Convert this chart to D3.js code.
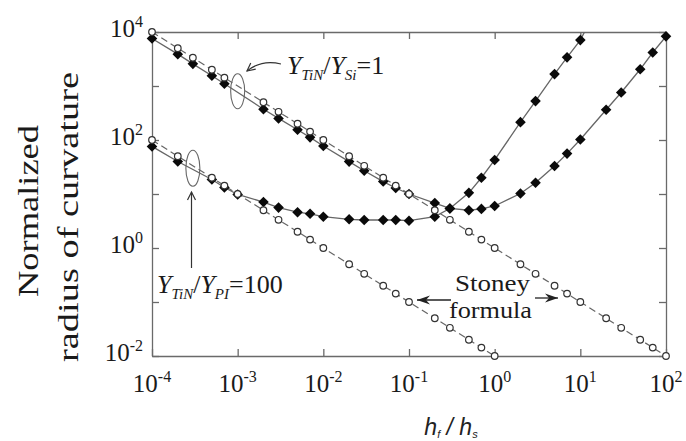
<!DOCTYPE html>
<html>
<head>
<meta charset="utf-8">
<script src="https://cdn.jsdelivr.net/npm/d3@7"></script>
<style>
  body { margin: 0; background: #fff; }
  svg { display: block; }
  text { font-family: "Liberation Serif", "Times New Roman", serif; fill: #1a1a1a; }
</style>
</head>
<body>
<div id="chart"></div>
<script>
// h_f / h_s values and normalized radius
var siX = [1e-4, 2e-4, 3e-4, 5e-4, 7e-4, 2e-3, 3e-3, 5e-3, 7e-3, 1e-2, 2e-2, 3e-2, 5e-2, 7e-2, 1e-1,
           2e-1, 3e-1, 5e-1, 7e-1, 1, 2, 3, 5, 7, 10, 20, 30, 50, 70, 100];
var siFem = [7590, 3890, 2570, 1550, 1100, 372, 251, 155, 112, 77.6, 39.8, 26.9, 17, 12.9, 10,
             6.8, 5.4, 5.0, 5.3, 6.0, 10.2, 16.2, 33, 56, 102, 363, 759, 2040, 4170, 8300];
var siStoney = [10000, 5000, 3333, 2000, 1429, 500, 333, 200, 143, 100, 50, 33.3, 20, 14.3, 10,
                5, 3.33, 2, 1.43, 1, 0.5, 0.333, 0.2, 0.143, 0.1, 0.05, 0.0333, 0.02, 0.0143, 0.01];

var piX = [1e-4, 2e-4, 5e-4, 7e-4, 1e-3, 2e-3, 3e-3, 5e-3, 7e-3, 1e-2, 2e-2, 3e-2, 5e-2, 7e-2, 1e-1,
           2e-1, 3e-1, 5e-1, 7e-1, 1, 2, 3, 5, 7, 10, 20];
var piFem = [76, 40, 18.6, 13.2, 9.8, 7.1, 5.6, 4.6, 4.3, 3.8, 3.4, 3.3, 3.3, 3.3, 3.2,
             3.8, 5.4, 10.5, 20, 42.7, 214, 525, 1660, 3390, 7080, 60000];
var piStoneyX = [1e-4, 2e-4, 5e-4, 7e-4, 1e-3, 2e-3, 3e-3, 5e-3, 7e-3, 1e-2, 2e-2, 3e-2, 5e-2, 7e-2, 1e-1,
                 2e-1, 3e-1, 5e-1, 7e-1, 1];
var piStoney = [100, 50, 20, 14.3, 10, 5, 3.33, 2, 1.43, 1, 0.5, 0.333, 0.2, 0.143, 0.1,
                0.05, 0.0333, 0.02, 0.0143, 0.01];

var xTicks = [1e-4, 1e-3, 1e-2, 1e-1, 1, 10, 100];
var xTickExp = ["-4", "-3", "-2", "-1", "0", "1", "2"];
var yTicks = [1e-2, 1e-1, 1, 10, 100, 1000, 10000];
var yLabelTicks = [1e-2, 1, 100, 10000];
var yTickExp = ["-2", "0", "2", "4"];

var width = 686, height = 441;
var margin = {top: 32, right: 20, bottom: 85, left: 152};
var w = width - margin.left - margin.right,
    h = height - margin.top - margin.bottom;

var svg = d3.select("#chart").append("svg")
    .attr("width", width)
    .attr("height", height);

var defs = svg.append("defs");
defs.append("clipPath").attr("id", "plotclip")
    .append("rect").attr("x", 0).attr("y", 0).attr("width", w).attr("height", h);

// open V head for the label arrows
defs.append("marker").attr("id", "vhead")
    .attr("viewBox", "-10 -6 12 12").attr("refX", 0).attr("refY", 0)
    .attr("markerWidth", 12).attr("markerHeight", 12)
    .attr("markerUnits", "userSpaceOnUse").attr("orient", "auto")
    .append("path").attr("d", "M-8,-4 L0,0 L-8,4")
    .attr("fill", "none").attr("stroke", "#333").attr("stroke-width", 1.2);

// filled barbed head for the Stoney arrows
defs.append("marker").attr("id", "fhead")
    .attr("viewBox", "-14 -6 16 12").attr("refX", 0).attr("refY", 0)
    .attr("markerWidth", 16).attr("markerHeight", 12)
    .attr("markerUnits", "userSpaceOnUse").attr("orient", "auto")
    .append("path").attr("d", "M-13,-4.5 L0,0 L-13,4.5 L-9,0 Z")
    .attr("fill", "#222");

var g = svg.append("g")
    .attr("transform", "translate(" + margin.left + "," + margin.top + ")");

var x = d3.scaleLog().domain([1e-4, 1e2]).range([0, w]);
var y = d3.scaleLog().domain([1e-2, 1e4]).range([h, 0]);

// frame + inward ticks
function styleAxis(sel) {
    sel.selectAll("path, line").attr("stroke", "#6a6a6a").attr("stroke-width", 1.3);
    sel.selectAll("text").remove();
}
g.append("g").attr("transform", "translate(0," + h + ")")
    .call(d3.axisBottom(x).tickValues(xTicks).tickSize(-7).tickSizeOuter(0)).call(styleAxis);
g.append("g")
    .call(d3.axisTop(x).tickValues(xTicks).tickSize(-7).tickSizeOuter(0)).call(styleAxis);
g.append("g")
    .call(d3.axisLeft(y).tickValues(yTicks).tickSize(-7).tickSizeOuter(0)).call(styleAxis);
g.append("g").attr("transform", "translate(" + w + ",0)")
    .call(d3.axisRight(y).tickValues(yTicks).tickSize(-7).tickSizeOuter(0)).call(styleAxis);

// tick labels as 10^n
var xl = g.selectAll(".xlab").data(xTicks).enter().append("text")
    .attr("class", "xlab")
    .attr("x", function(d) { return x(d); })
    .attr("y", h + 36)
    .attr("text-anchor", "middle")
    .style("font-size", "25px");
xl.append("tspan").text("10");
xl.append("tspan").attr("dy", -10).style("font-size", "16px")
    .text(function(d, i) { return xTickExp[i]; });

var yl = g.selectAll(".ylab").data(yLabelTicks).enter().append("text")
    .attr("class", "ylab")
    .attr("x", -9)
    .attr("y", function(d) { return y(d) + 5; })
    .attr("text-anchor", "end")
    .style("font-size", "25px");
yl.append("tspan").text("10");
yl.append("tspan").attr("dy", -10).style("font-size", "16px")
    .text(function(d, i) { return yTickExp[i]; });

// series
var plot = g.append("g");
var lines = plot.append("g").attr("clip-path", "url(#plotclip)");
var line = d3.line()
    .x(function(d) { return x(d[0]); })
    .y(function(d) { return y(d[1]); });

var siFemPts = d3.zip(siX, siFem), siStoneyPts = d3.zip(siX, siStoney);
var piFemPts = d3.zip(piX, piFem), piStoneyPts = d3.zip(piStoneyX, piStoney);

[siStoneyPts, piStoneyPts].forEach(function(pts) {
    lines.append("path").datum(pts).attr("d", line)
        .attr("fill", "none").attr("stroke", "#666").attr("stroke-width", 1.2)
        .attr("stroke-dasharray", "7,4");
});
[siFemPts, piFemPts].forEach(function(pts) {
    lines.append("path").datum(pts).attr("d", line)
        .attr("fill", "none").attr("stroke", "#666").attr("stroke-width", 1.3);
});

var diamond = d3.symbol().type(d3.symbolSquare).size(56);
[siFemPts, piFemPts].forEach(function(pts) {
    plot.append("g").selectAll("path").data(pts).enter().append("path")
        .attr("d", diamond)
        .attr("transform", function(d) {
            return "translate(" + x(d[0]) + "," + y(d[1]) + ") rotate(45)";
        })
        .attr("fill", "#0a0a0a");
});
[siStoneyPts, piStoneyPts].forEach(function(pts) {
    plot.append("g").selectAll("circle").data(pts).enter().append("circle")
        .attr("cx", function(d) { return x(d[0]); })
        .attr("cy", function(d) { return y(d[1]); })
        .attr("r", 3.3)
        .attr("fill", "#fff").attr("stroke", "#333").attr("stroke-width", 1.2);
});

// annotations
var ann = svg.append("g");
ann.append("ellipse")
    .attr("cx", margin.left + x(1e-3)).attr("cy", margin.top + y(800))
    .attr("rx", 7).attr("ry", 17.5)
    .attr("fill", "none").attr("stroke", "#666").attr("stroke-width", 1.1);
ann.append("ellipse")
    .attr("cx", margin.left + x(3e-4)).attr("cy", margin.top + y(30))
    .attr("rx", 7).attr("ry", 18)
    .attr("fill", "none").attr("stroke", "#666").attr("stroke-width", 1.1);

ann.append("path").attr("d", "M281,64 Q262,59 247,71")
    .attr("fill", "none").attr("stroke", "#333").attr("stroke-width", 1.2)
    .attr("marker-end", "url(#vhead)");
ann.append("path").attr("d", "M191.5,268 L191.5,192")
    .attr("fill", "none").attr("stroke", "#333").attr("stroke-width", 1.2)
    .attr("marker-end", "url(#vhead)");

function ratioLabel(px, py, sub1, sub2, tail) {
    var t = ann.append("text").attr("x", px).attr("y", py).style("font-size", "26px");
    t.append("tspan").style("font-style", "italic").text("Y");
    t.append("tspan").attr("dy", 6).style("font-style", "italic").style("font-size", "15px").text(sub1);
    t.append("tspan").attr("dy", -6).text("/");
    t.append("tspan").style("font-style", "italic").text("Y");
    t.append("tspan").attr("dy", 6).style("font-style", "italic").style("font-size", "15px").text(sub2);
    t.append("tspan").attr("dy", -6).text(tail);
}
ratioLabel(287, 74, "TiN", "Si", "=1");
ratioLabel(157, 293, "TiN", "PI", "=100");

ann.append("text").attr("x", 455).attr("y", 291)
    .attr("textLength", 75).attr("lengthAdjust", "spacingAndGlyphs")
    .style("font-size", "24px").text("Stoney");
ann.append("text").attr("x", 449).attr("y", 318)
    .attr("textLength", 83).attr("lengthAdjust", "spacingAndGlyphs")
    .style("font-size", "24px").text("formula");
ann.append("path").attr("d", "M451,300 L417,300")
    .attr("stroke", "#222").attr("stroke-width", 1.3).attr("marker-end", "url(#fhead)");
ann.append("path").attr("d", "M535,298 L558,298")
    .attr("stroke", "#222").attr("stroke-width", 1.3).attr("marker-end", "url(#fhead)");

// axis titles
svg.append("text")
    .attr("transform", "translate(38,211) rotate(-90)")
    .attr("text-anchor", "middle")
    .attr("textLength", 172).attr("lengthAdjust", "spacingAndGlyphs")
    .style("font-size", "29px").text("Normalized");
svg.append("text")
    .attr("transform", "translate(78,217) rotate(-90)")
    .attr("text-anchor", "middle")
    .attr("textLength", 290).attr("lengthAdjust", "spacingAndGlyphs")
    .style("font-size", "29px").text("radius of curvature");

var xt = svg.append("text").attr("x", 451).attr("y", 435)
    .attr("text-anchor", "middle")
    .style("font-family", "'Liberation Sans', Arial, sans-serif")
    .style("font-style", "italic").style("font-size", "23px").style("fill", "#222");
xt.append("tspan").text("h");
xt.append("tspan").attr("dy", 3).style("font-size", "11px").text("f");
xt.append("tspan").attr("dy", -3).text(" /  h");
xt.append("tspan").attr("dy", 3).style("font-size", "11px").text("s");
</script>
</body>
</html>
